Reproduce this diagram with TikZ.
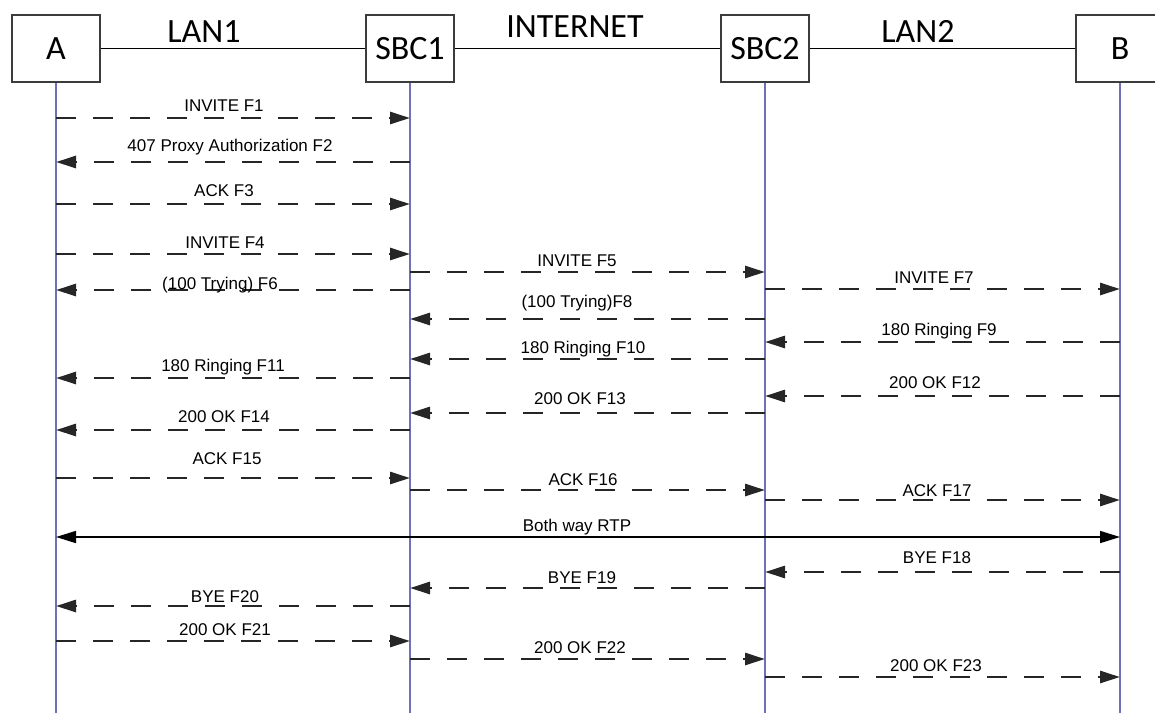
\documentclass[tikz,border=0pt]{standalone}
\usepackage{fontspec}
\setmainfont{Liberation Sans}
\newfontfamily\hdrfont{Carlito}
\usetikzlibrary{arrows.meta}
\definecolor{lifeblue}{RGB}{112,112,182}
\definecolor{boxgray}{RGB}{60,60,60}
\begin{document}
\begin{tikzpicture}[x=1pt,y=-1pt,
  entity/.style={draw=boxgray, line width=2.8pt, fill=white, minimum width=88pt,
    minimum height=67pt, inner sep=0pt, font=\hdrfont\fontsize{34}{40}\selectfont},
  hdr/.style={anchor=base, inner sep=0pt, font=\hdrfont\fontsize{34}{40}\selectfont},
  net/.style={line width=1.5pt, black},
  life/.style={line width=1.9pt, lifeblue},
  msg/.style={line width=2.8pt, black!85, dash pattern=on 20pt off 17pt,
    -{Triangle[length=20pt,width=12pt]}},
  rtp/.style={line width=1.6pt, black, {Triangle[length=20pt,width=12pt]}-{Triangle[length=20pt,width=12pt]}},
  lbl/.style={anchor=base, inner sep=0pt, font=\fontsize{17}{20}\selectfont, text=black}
]
\useasboundingbox (0,0) rectangle (1155,713);
\begin{scope}
\clip (0,0) rectangle (1155,713);
% entities
\node[entity] (A)  at (56,48.5)   {A};
\node[entity] (S1) at (410,48.5)  {SBC1};
\node[entity] (S2) at (765,48.5)  {SBC2};
\node[entity] (B)  at (1120,48.5) {B};
\end{scope}
\draw[net] (A) -- (S1);
\draw[net] (S1) -- (S2);
\draw[net] (S2) -- (B);
\node[hdr] (lan1) at (204,42) {LAN1};
\node[hdr] (inet) at (575,37) {INTERNET};
\node[hdr] (lan2) at (918,42) {LAN2};
% lifelines
\coordinate (Aend)  at (56,713);
\coordinate (S1end) at (410,713);
\coordinate (S2end) at (765,713);
\coordinate (Bend)  at (1120,713);
\draw[life] (A.south) -- (Aend);
\draw[life] (S1.south) -- (S1end);
\draw[life] (S2.south) -- (S2end);
\draw[life] (B.south) -- (Bend);
% messages
\foreach \f/\t/\y/\off/\lx/\txt [count=\i] in {
  A/S1/118/7/224/INVITE F1,
  S1/A/162/11/230/407 Proxy Authorization F2,
  A/S1/204/8/224/ACK F3,
  A/S1/254/6/225/INVITE F4,
  S1/S2/272/6/577/INVITE F5,
  S1/A/290/1/220/{(100 Trying) F6},
  S2/B/289/6/934/INVITE F7,
  S2/S1/319/12/577/{(100 Trying)F8},
  B/S2/342/7/939/180 Ringing F9,
  S2/S1/359/6/583/180 Ringing F10,
  S1/A/378/7/223/180 Ringing F11,
  B/S2/396/8/935/200 OK F12,
  S2/S1/413/9/580/200 OK F13,
  S1/A/430/8/224/200 OK F14,
  A/S1/478/14/227/ACK F15,
  S1/S2/490/5/583/ACK F16,
  S2/B/500/4/937/ACK F17,
  B/S2/572/9/937/BYE F18,
  S2/S1/588/5/582/BYE F19,
  S1/A/606/4/225/BYE F20,
  A/S1/641/6/225/200 OK F21,
  S1/S2/659/6/580/200 OK F22,
  S2/B/677/6/936/200 OK F23}{
  \coordinate (ms\i) at (\f |- 0,\y);
  \coordinate (me\i) at (\t |- 0,\y);
  \draw[msg] (ms\i) -- (me\i);
  \node[lbl] (ml\i) at (\lx,\y-\off) {\txt};
}
% RTP
\coordinate (rtpA) at (A |- 0,537);
\coordinate (rtpB) at (B |- 0,537);
\draw[rtp] (rtpA) -- (rtpB);
\node[lbl] (rtplbl) at (577,531) {Both way RTP};
\end{tikzpicture}
\end{document}
